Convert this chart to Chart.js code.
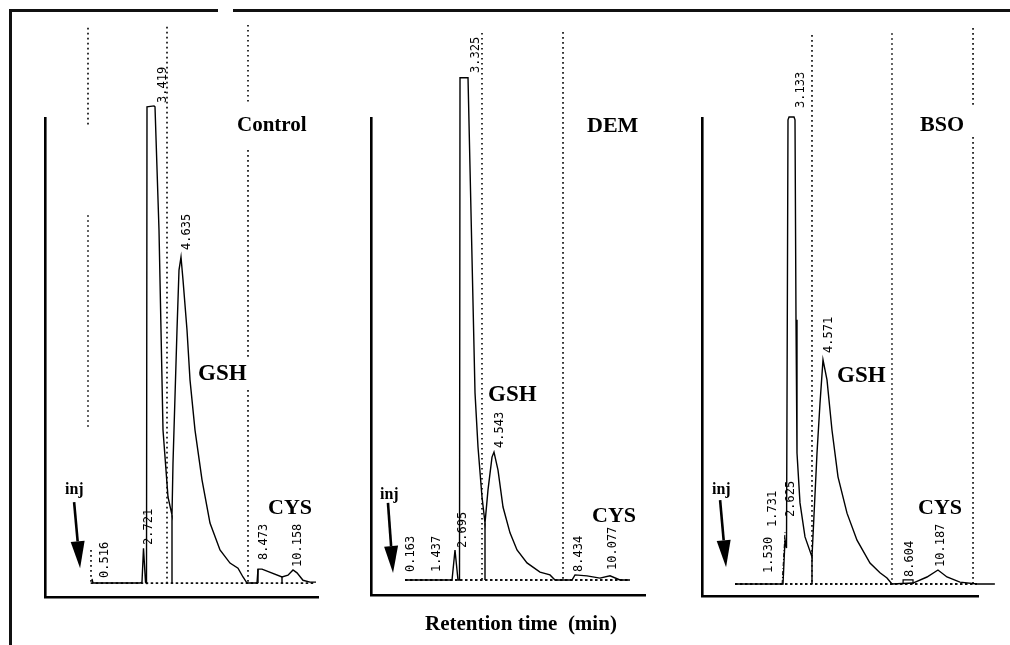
<!DOCTYPE html>
<html><head><meta charset="utf-8">
<script src="https://cdn.jsdelivr.net/npm/chart.js@4/dist/chart.umd.min.js"></script>
<style>
html,body{margin:0;padding:0;background:#fff;}
#wrap{position:relative;width:1010px;height:645px;overflow:hidden;background:#fff;}
canvas{position:absolute;left:0;top:0;}
.frame{position:absolute;background:#111;}
.t{position:absolute;font-family:"Liberation Serif","Times New Roman",serif;font-weight:bold;color:#000;white-space:pre;line-height:1;z-index:5;}
.pk{position:absolute;font-family:"DejaVu Sans Mono",monospace;font-size:12px;color:#000;writing-mode:vertical-rl;transform:translate(-50%,-100%) rotate(180deg);line-height:1;white-space:nowrap;z-index:5;}
</style></head>
<body><div id="wrap">
<div class="frame" style="left:9px;top:9px;width:209px;height:2.5px"></div>
<div class="frame" style="left:233px;top:9px;width:777px;height:2.5px"></div>
<div class="frame" style="left:9px;top:9px;width:2.5px;height:636px"></div>
<canvas id="c1" width="1010" height="645"></canvas>
<canvas id="c2" width="1010" height="645"></canvas>
<canvas id="c3" width="1010" height="645"></canvas>
<div class="t" style="left:237px;top:114px;font-size:21px">Control</div>
<div class="t" style="left:587px;top:114px;font-size:22px">DEM</div>
<div class="t" style="left:920px;top:113px;font-size:22px">BSO</div>
<div class="t" style="left:198px;top:361px;font-size:23px">GSH</div>
<div class="t" style="left:488px;top:382px;font-size:23px">GSH</div>
<div class="t" style="left:837px;top:363px;font-size:23px">GSH</div>
<div class="t" style="left:268px;top:496px;font-size:22px">CYS</div>
<div class="t" style="left:592px;top:504px;font-size:22px">CYS</div>
<div class="t" style="left:918px;top:496px;font-size:22px">CYS</div>
<div class="t" style="left:65px;top:481px;font-size:16px">inj</div>
<div class="t" style="left:380px;top:486px;font-size:16px">inj</div>
<div class="t" style="left:712px;top:481px;font-size:16px">inj</div>
<div class="t" style="left:425px;top:613px;font-size:21px">Retention time  (min)</div>
</div>
<script>
// ---------- Control ----------
const controlTime = [0.065, 0.115, 2.465, 2.565, 2.64, 2.74, 2.79, 2.815, 3.165, 3.215, 3.415, 3.615, 3.865, 4.065, 4.115, 4.315, 4.415, 4.515, 4.615, 4.815, 4.965, 5.215, 5.565, 5.965, 6.465, 6.965, 7.365, 7.615, 7.815, 8.315, 8.365, 8.565, 9.565, 9.865, 10.115, 10.315, 10.615, 10.965, 11.265];
const controlSignal = [0.9, 0, 0, 0.2, 7.5, 0.2, 0, 102.4, 102.6, 102.4, 75.9, 32.9, 18.5, 14.6, 25.8, 54.4, 67.3, 70.1, 65.2, 54.4, 43.7, 32.9, 22.2, 12.9, 7.1, 4.3, 3.2, 1.3, 0, 0, 3.0, 3.0, 1.3, 1.7, 2.8, 2.2, 0.6, 0.2, 0.2];
const controlPeakTimes = [0.516, 2.721, 3.419, 4.635, 8.473, 10.158];
const controlPeakLabelY = [1.1, 8.2, 103.2, 71.6, 4.9, 3.4];
const controlMarkTime = [-0.135, -0.135, 0.015, 3.815, 7.865, 7.865, 7.865];
const controlMarkTop = [119.4, 79.1, 7.1, 119.6, 120, 93.1, 41.5];
const controlMarkBottom = [98.1, 33.3, 0, 0, 102.8, 48.0, 0];
const controlDropTime = [4.065, 8.365, 9.565];
const controlDropTop = [14.6, 3.0, 1.3];
const controlBaseline = [0.0, 11.2];
const controlInjTail = [-0.83, 17.4];
const controlInjTip = [-0.53, 3.2];

// ---------- DEM ----------
const demTime = [0.05, 2.365, 2.512, 2.66, 2.734, 2.759, 3.153, 3.498, 3.645, 3.842, 3.99, 4.138, 4.335, 4.433, 4.631, 4.877, 5.222, 5.567, 6.059, 6.7, 7.192, 7.438, 8.276, 8.424, 9.015, 9.655, 10.148, 10.64, 11.133];
const demSignal = [0, 0, 6.5, 0, 0, 108.7, 108.7, 40.5, 28.8, 18.0, 12.3, 19.5, 26.6, 27.7, 23.8, 15.8, 10.2, 6.5, 3.7, 1.7, 1.1, 0, 0, 1.1, 0.9, 0.4, 0.9, 0, 0];
const demPeakTimes = [0.163, 1.437, 2.695, 3.325, 4.543, 8.434, 10.077];
const demPeakLabelY = [1.7, 1.7, 6.9, 109.7, 28.6, 1.7, 2.2];
const demMarkTime = [3.842, 7.833];
const demMarkTop = [118.4, 118.6];
const demMarkBottom = [0, 0];
const demDropTime = [3.99];
const demDropTop = [12.3];
const demBaseline = [0.05, 11.1];
const demInjTail = [-0.79, 16.7];
const demInjTip = [-0.54, 1.5];

// ---------- BSO ----------
const bsoTime = [0.02, 2.436, 2.536, 2.612, 2.687, 2.74, 2.99, 3.04, 3.09, 3.14, 3.291, 3.543, 3.895, 4.147, 4.298, 4.449, 4.65, 4.902, 5.204, 5.657, 6.16, 6.814, 7.317, 7.67, 7.921, 8.977, 9.682, 10.235, 10.688, 11.342, 12.197, 13.1];
const bsoSignal = [0, 0, 9.4, 7.7, 99.6, 100.2, 100.2, 99.6, 56.7, 28.1, 17.4, 10.1, 5.8, 28.1, 38.8, 48.1, 43.8, 33.0, 23.0, 15.2, 9.4, 4.5, 2.4, 1.3, 0, 0.2, 1.5, 3.0, 1.5, 0.4, 0, 0];
const bsoPeakTimes = [1.530, 1.731, 2.625, 3.133, 4.571, 8.604, 10.187];
const bsoPeakLabelY = [2.4, 12.2, 14.4, 102.1, 49.6, 1.5, 3.6];
const bsoMarkTime = [3.895, 7.921, 12.0, 12.0];
const bsoMarkTop = [117.8, 118.2, 119.3, 95.9];
const bsoMarkBottom = [0, 0, 102.8, 0];
const bsoDropTime = [3.895];
const bsoDropTop = [5.8];
const bsoBaseline = [0.02, 12.2];
const bsoBoxTime = [8.48, 8.48, 8.98, 8.98];
const bsoBoxSignal = [0, 0.9, 0.9, 0];
const bsoEventTime = [2.39, 2.54];
const bsoEventSignal = [0, 11.2];
const bsoInjTail = [-0.73, 18.0];
const bsoInjTip = [-0.43, 3.6];

// ---------- helpers ----------
const zipXY = (xs, ys) => xs.map((x, i) => ({x, y: ys[i]}));
const segs = (ts, tops, bots) => {
  const out = [];
  ts.forEach((t, i) => { out.push({x: t, y: tops[i]}, {x: t, y: bots[i]}, {x: t, y: null}); });
  return out;
};

const injArrowPlugin = {
  id: 'injArrow',
  afterDatasetsDraw(chart, args, opts) {
    const {ctx, scales: {x, y}} = chart;
    const x0 = x.getPixelForValue(opts.tail[0]), y0 = y.getPixelForValue(opts.tail[1]);
    const x1 = x.getPixelForValue(opts.tip[0]), y1 = y.getPixelForValue(opts.tip[1]);
    const ang = Math.atan2(y1 - y0, x1 - x0);
    const hl = 27, hw = 7;
    const bx = x1 - hl * Math.cos(ang), by = y1 - hl * Math.sin(ang);
    ctx.save();
    ctx.strokeStyle = '#000'; ctx.lineWidth = 2.6;
    ctx.beginPath(); ctx.moveTo(x0, y0); ctx.lineTo(bx, by); ctx.stroke();
    ctx.beginPath(); ctx.moveTo(x1, y1);
    ctx.lineTo(bx + hw * Math.sin(ang), by - hw * Math.cos(ang));
    ctx.lineTo(bx - hw * Math.sin(ang), by + hw * Math.cos(ang));
    ctx.closePath(); ctx.fillStyle = '#000'; ctx.fill();
    ctx.restore();
  }
};

function makePanel(id, cfg) {
  const datasets = [
    {data: zipXY(cfg.time, cfg.signal), borderColor: '#000', borderWidth: 1.4},
    {data: segs(cfg.markTime, cfg.markTop, cfg.markBottom), borderColor: '#111', borderWidth: 1.7, borderDash: [1.6, 3.4], spanGaps: false},
    {data: segs(cfg.dropTime, cfg.dropTop, cfg.dropTime.map(() => 0)), borderColor: '#000', borderWidth: 1.4, spanGaps: false},
    {data: cfg.baseline.map(t => ({x: t, y: 0})), borderColor: '#111', borderWidth: 1.8, borderDash: [2.5, 2.5]}
  ];
  (cfg.extra || []).forEach(d => datasets.push(d));
  datasets.forEach(d => { d.clip = false; d.pointRadius = 0; d.fill = false; d.tension = 0; });
  const axis = (min, max) => ({
    type: 'linear', min, max,
    ticks: {display: false},
    grid: {display: false, drawTicks: false, tickLength: 0},
    border: {display: true, width: 2.6, color: '#000'}
  });
  const chart = new Chart(document.getElementById(id), {
    type: 'line',
    data: {datasets},
    options: {
      responsive: false, animation: false, events: [],
      layout: {padding: cfg.padding},
      plugins: {legend: {display: false}, tooltip: {enabled: false}, injArrow: {tail: cfg.injTail, tip: cfg.injTip}},
      scales: {x: axis(cfg.xmin, cfg.xmax), y: axis(cfg.ymin, 100)}
    },
    plugins: [injArrowPlugin]
  });
  const wrap = document.getElementById('wrap');
  cfg.peakTimes.forEach((t, i) => {
    const d = document.createElement('div');
    d.className = 'pk';
    d.textContent = t.toFixed(3);
    d.style.left = (chart.scales.x.getPixelForValue(t) + 3) + 'px';
    d.style.top = chart.scales.y.getPixelForValue(cfg.peakLabelY[i]) + 'px';
    wrap.appendChild(d);
  });
  return chart;
}

makePanel('c1', {
  time: controlTime, signal: controlSignal, peakTimes: controlPeakTimes, peakLabelY: controlPeakLabelY,
  markTime: controlMarkTime, markTop: controlMarkTop, markBottom: controlMarkBottom,
  dropTime: controlDropTime, dropTop: controlDropTop, baseline: controlBaseline,
  injTail: controlInjTail, injTip: controlInjTip,
  xmin: -2.285, xmax: 11.365, ymin: -3,
  padding: {left: 45, top: 118, right: 692, bottom: 48}
});
makePanel('c2', {
  time: demTime, signal: demSignal, peakTimes: demPeakTimes, peakLabelY: demPeakLabelY,
  markTime: demMarkTime, markTop: demMarkTop, markBottom: demMarkBottom,
  dropTime: demDropTime, dropTop: demDropTop, baseline: demBaseline,
  injTail: demInjTail, injTip: demInjTip,
  xmin: -1.626, xmax: 11.872, ymin: -3.25,
  padding: {left: 371, top: 118, right: 365, bottom: 50}
});
makePanel('c3', {
  time: bsoTime, signal: bsoSignal, peakTimes: bsoPeakTimes, peakLabelY: bsoPeakLabelY,
  markTime: bsoMarkTime, markTop: bsoMarkTop, markBottom: bsoMarkBottom,
  dropTime: bsoDropTime, dropTop: bsoDropTop, baseline: bsoBaseline,
  injTail: bsoInjTail, injTip: bsoInjTip,
  xmin: -1.641, xmax: 12.25, ymin: -2.575,
  padding: {left: 702, top: 118, right: 32, bottom: 49},
  extra: [
    {data: zipXY(bsoBoxTime, bsoBoxSignal), borderColor: '#000', borderWidth: 1.2},
    {data: zipXY(bsoEventTime, bsoEventSignal), borderColor: '#000', borderWidth: 1.0, borderDash: [4, 2, 1, 2]}
  ]
});
</script>
</body></html>
